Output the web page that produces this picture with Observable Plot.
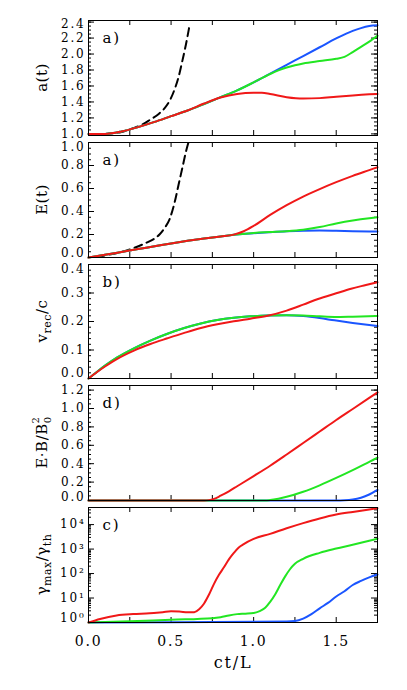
<!DOCTYPE html>
<html><head><meta charset="utf-8">
<script src="https://cdn.jsdelivr.net/npm/d3@7"></script>
<script src="https://cdn.jsdelivr.net/npm/@observablehq/plot@0.6"></script>
<style>
body{margin:0;background:#fff;}
#c{position:relative;width:407px;height:690px;overflow:hidden;}
#c svg{position:absolute;left:0;}
</style></head><body><div id="c"></div>
<script>
// ---------- data ----------
const xTicks = [0, 0.25, 0.5, 0.75, 1.0, 1.25, 1.5, 1.75];
const xLabels = [0, 0.5, 1.0, 1.5];
const tags = ["a)", "a)", "b)", "d)", "c)"];

// panel 1: a(t)
const aBlue = [[0,1.0],[0.1,1.0],[0.2,1.03],[0.3,1.085],[0.4,1.15],[0.5,1.222],[0.6,1.293],[0.7,1.375],[0.8,1.46],[0.9,1.545],[1.0,1.645],[1.1,1.755],[1.2,1.865],[1.3,1.975],[1.4,2.085],[1.5,2.195],[1.6,2.29],[1.65,2.325],[1.7,2.35],[1.75,2.36]];
const aGreen = [[0,1.0],[0.1,1.0],[0.2,1.03],[0.3,1.085],[0.4,1.15],[0.5,1.222],[0.6,1.293],[0.7,1.375],[0.8,1.46],[0.9,1.545],[1.0,1.645],[1.1,1.75],[1.15,1.795],[1.2,1.832],[1.25,1.86],[1.3,1.882],[1.4,1.912],[1.5,1.94],[1.55,1.965],[1.6,2.025],[1.65,2.09],[1.7,2.155],[1.75,2.23]];
const aRed = [[0,1.0],[0.1,1.0],[0.2,1.03],[0.3,1.085],[0.4,1.15],[0.5,1.222],[0.6,1.293],[0.7,1.38],[0.8,1.455],[0.9,1.5],[1.0,1.515],[1.05,1.515],[1.1,1.5],[1.2,1.46],[1.3,1.442],[1.4,1.448],[1.5,1.466],[1.6,1.482],[1.7,1.495],[1.75,1.5]];
const aDash = [[0.1,1.0],[0.2,1.025],[0.275,1.075],[0.325,1.115],[0.375,1.18],[0.425,1.25],[0.46,1.32],[0.49,1.41],[0.52,1.55],[0.545,1.71],[0.57,1.93],[0.59,2.12],[0.612,2.36]];

// panel 2: E(t)
const eBlue = [[0,0],[0.1,0.023],[0.2,0.048],[0.3,0.073],[0.4,0.097],[0.5,0.122],[0.6,0.145],[0.7,0.165],[0.8,0.183],[0.88,0.197],[0.95,0.206],[1.0,0.211],[1.1,0.22],[1.2,0.228],[1.3,0.233],[1.4,0.234],[1.5,0.232],[1.6,0.229],[1.7,0.227],[1.75,0.226]];
const eGreen = [[0,0],[0.1,0.023],[0.2,0.048],[0.3,0.073],[0.4,0.097],[0.5,0.122],[0.6,0.145],[0.7,0.165],[0.8,0.183],[0.88,0.197],[0.95,0.207],[1.0,0.213],[1.1,0.221],[1.2,0.229],[1.3,0.242],[1.4,0.265],[1.5,0.296],[1.6,0.322],[1.7,0.342],[1.75,0.35]];
const eRed = [[0,0],[0.1,0.023],[0.2,0.048],[0.3,0.073],[0.4,0.097],[0.5,0.122],[0.6,0.145],[0.7,0.165],[0.8,0.183],[0.88,0.199],[0.94,0.228],[1.0,0.275],[1.1,0.37],[1.2,0.455],[1.3,0.53],[1.4,0.595],[1.5,0.655],[1.6,0.71],[1.7,0.76],[1.75,0.785]];
const eDash = [[0.05,0.005],[0.1,0.018],[0.2,0.048],[0.275,0.083],[0.35,0.128],[0.4,0.165],[0.43,0.2],[0.46,0.255],[0.49,0.33],[0.52,0.47],[0.545,0.63],[0.57,0.79],[0.59,0.92],[0.605,1.0]];

// panel 3: v_rec/c
const vBlue = [[0,0],[0.05,0.023],[0.1,0.045],[0.174,0.074],[0.275,0.106],[0.375,0.133],[0.478,0.157],[0.58,0.177],[0.68,0.193],[0.78,0.205],[0.88,0.213],[0.98,0.218],[1.085,0.221],[1.2,0.222],[1.3,0.219],[1.4,0.212],[1.49,0.204],[1.6,0.195],[1.75,0.184]];
const vGreen = [[0,0],[0.05,0.023],[0.1,0.045],[0.174,0.074],[0.275,0.106],[0.375,0.133],[0.478,0.157],[0.58,0.177],[0.68,0.193],[0.78,0.205],[0.88,0.213],[0.98,0.218],[1.085,0.221],[1.2,0.222],[1.3,0.221],[1.4,0.218],[1.49,0.216],[1.6,0.217],[1.75,0.219]];
const vRed = [[0,0],[0.05,0.022],[0.1,0.042],[0.174,0.069],[0.275,0.098],[0.375,0.121],[0.478,0.141],[0.58,0.16],[0.68,0.177],[0.78,0.19],[0.88,0.201],[0.98,0.21],[1.085,0.22],[1.2,0.238],[1.3,0.259],[1.39,0.279],[1.5,0.299],[1.59,0.315],[1.68,0.328],[1.75,0.338]];

// panel 4: E.B/B0^2
const dBlue = [[0,0],[1.5,0],[1.55,0.002],[1.6,0.01],[1.65,0.03],[1.7,0.065],[1.75,0.115]];
const dGreen = [[0,0],[1.07,0],[1.1,0.005],[1.15,0.02],[1.2,0.04],[1.3,0.095],[1.4,0.165],[1.5,0.245],[1.6,0.33],[1.7,0.42],[1.75,0.465]];
const dRed = [[0,0],[0.7,0],[0.73,0.004],[0.76,0.018],[0.8,0.052],[0.85,0.1],[0.9,0.155],[1.0,0.265],[1.1,0.378],[1.2,0.5],[1.3,0.625],[1.4,0.75],[1.5,0.875],[1.6,0.995],[1.7,1.115],[1.75,1.175]];

// panel 5: gamma_max/gamma_th (log)
const gBlue = [[0,1.0],[0.5,1.02],[1.0,1.07],[1.2,1.1],[1.25,1.15],[1.3,1.45],[1.35,2.2],[1.4,3.8],[1.45,6.3],[1.5,11.5],[1.55,19],[1.6,34],[1.65,50],[1.7,70],[1.75,91]];
const gGreen = [[0,1.0],[0.25,1.12],[0.5,1.3],[0.75,1.5],[0.8,1.65],[0.85,1.95],[0.9,2.2],[0.95,2.3],[1.0,2.45],[1.04,3.0],[1.07,4.0],[1.1,7],[1.13,14],[1.16,33],[1.19,75],[1.22,150],[1.25,250],[1.3,400],[1.4,700],[1.5,1050],[1.6,1500],[1.7,2200],[1.75,2650]];
const gRed = [[0,1.0],[0.07,1.4],[0.17,1.95],[0.27,2.22],[0.37,2.38],[0.45,2.65],[0.5,2.85],[0.55,2.8],[0.6,2.6],[0.64,2.65],[0.67,3.5],[0.7,6],[0.73,14],[0.76,38],[0.79,89],[0.82,180],[0.85,380],[0.88,700],[0.91,1170],[0.94,1600],[1.0,2600],[1.1,4200],[1.2,7100],[1.3,11500],[1.4,17800],[1.5,25700],[1.6,33000],[1.7,41500],[1.75,46800]];

const aTicks = [1.0, 1.2, 1.4, 1.6, 1.8, 2.0, 2.2, 2.4];
const eTicks = [0.0, 0.2, 0.4, 0.6, 0.8, 1.0];
const vTicks = [0.0, 0.1, 0.2, 0.3, 0.4];
const dTicks = [0.0, 0.2, 0.4, 0.6, 0.8, 1.0, 1.2];
const gTicks = [1, 10, 100, 1000, 10000];

// ---------- layout ----------
const W = 407, ML = 88, MR = 30, PAD = 8;
const C = {blue: "#1a55ff", green: "#22e622", red: "#f01818", black: "#000"};
const FONT = "'DejaVu Serif', serif";
const sup = {"0":"⁰","1":"¹","2":"²","3":"³","4":"⁴"};
const f1 = d3.format(".1f");
const fLog = d => "10" + sup[String(Math.round(Math.log10(d)))];

function panel(cfg) {
  const {top, h, y, majors, minors, nudge = {}, fmt, tag, series, title, last} = cfg;
  const mb = last ? 70 : PAD;
  const pw = W - ML - MR;
  const marks = [];
  // tick marks (inward, all sides)
  marks.push(Plot.tickX(xTicks, {x: d => d, insetTop: h - 5, stroke: "#000"}));
  marks.push(Plot.tickX(xTicks, {x: d => d, insetBottom: h - 5, stroke: "#000"}));
  marks.push(Plot.tickY(majors, {y: d => d, insetRight: pw - 6, stroke: "#000"}));
  marks.push(Plot.tickY(majors, {y: d => d, insetLeft: pw - 6, stroke: "#000"}));
  marks.push(Plot.tickY(minors, {y: d => d, insetRight: pw - 3, stroke: "#000"}));
  marks.push(Plot.tickY(minors, {y: d => d, insetLeft: pw - 3, stroke: "#000"}));
  // curves
  for (const s of series) {
    marks.push(Plot.line(s.data, {x: d => d[0], y: d => d[1], stroke: s.color, strokeWidth: 2,
      curve: "monotone-x", strokeDasharray: s.dash ? "8,5" : null}));
  }
  marks.push(Plot.frame({stroke: "#000", strokeWidth: 1}));
  // tick labels, with a few edge labels nudged inward as in the original
  const groups = d3.group(majors, v => nudge[v] || 0);
  for (const [dy, vals] of groups) {
    marks.push(Plot.axisY({ticks: vals, tickSize: 0, tickPadding: 3, tickFormat: fmt, fontSize: 12, dy, label: null}));
  }
  marks.push(Plot.text([tag], {text: d => d, frameAnchor: "top-left", dx: 14, dy: 12, fontSize: 15, lineAnchor: "top"}));
  if (last) {
    marks.push(Plot.axisX({ticks: xLabels, tickSize: 0, tickPadding: 14, tickFormat: f1, fontSize: 14, label: null}));
    marks.push(Plot.text(["ct/L"], {text: d => d, frameAnchor: "bottom", dy: 40, fontSize: 16, lineAnchor: "middle"}));
  }
  const svg = Plot.plot({
    width: W, height: h + PAD + mb,
    marginLeft: ML, marginRight: MR, marginTop: PAD, marginBottom: mb,
    x: {domain: [0, 1.75], axis: null},
    y,
    style: {background: "none", overflow: "visible", fontFamily: FONT, letterSpacing: "1.8px", color: "#000"},
    marks
  });
  svg.style.top = (top - PAD) + "px";
  // y-axis title (rotated, with sub/superscripts)
  const t = d3.select(svg).append("text")
    .attr("transform", `translate(47,${PAD + h / 2}) rotate(-90)`)
    .attr("text-anchor", "middle")
    .attr("font-family", FONT).attr("font-size", 15).attr("fill", "#000")
    .style("letter-spacing", "0.5px");
  title(t);
  document.getElementById("c").appendChild(svg);
}

const S = (data, color, dash) => ({data, color, dash});

panel({top: 20, h: 115, y: {domain: [0.98, 2.42]}, majors: aTicks, minors: d3.range(1.0, 2.42, 0.05),
  nudge: {2.4: 2}, fmt: f1, tag: tags[0],
  series: [S(aDash, C.black, true), S(aBlue, C.blue), S(aGreen, C.green), S(aRed, C.red)],
  title: t => t.text("a(t)")});

panel({top: 142, h: 115, y: {domain: [0, 1.0]}, majors: eTicks, minors: d3.range(0, 1.0001, 0.05),
  nudge: {1.0: 5, 0: -4}, fmt: f1, tag: tags[1],
  series: [S(eDash, C.black, true), S(eBlue, C.blue), S(eGreen, C.green), S(eRed, C.red)],
  title: t => t.text("E(t)")});

panel({top: 264, h: 114, y: {domain: [0, 0.4]}, majors: vTicks, minors: d3.range(0, 0.4001, 0.02),
  nudge: {0.4: 5, 0: -5}, fmt: f1, tag: tags[2],
  series: [S(vBlue, C.blue), S(vGreen, C.green), S(vRed, C.red)],
  title: t => { t.append("tspan").text("v"); t.append("tspan").attr("dy", 4).attr("font-size", 11).text("rec");
                t.append("tspan").attr("dy", -4).text("/c"); }});

panel({top: 385, h: 115, y: {domain: [0, 1.25]}, majors: dTicks, minors: d3.range(0, 1.2501, 0.05),
  nudge: {0: -3}, fmt: f1, tag: tags[3],
  series: [S(dBlue, C.blue), S(dGreen, C.green), S(dRed, C.red)],
  title: t => { t.append("tspan").text("E·B/B"); t.append("tspan").attr("dy", 4).attr("font-size", 10).text("0");
                t.append("tspan").attr("dx", -7).attr("dy", -12).attr("font-size", 10).text("2"); }});

const gMinors = [];
for (let k = 0; k <= 4; k++) for (let m = 2; m <= 9; m++) if (m * 10 ** k <= 5e4) gMinors.push(m * 10 ** k);
panel({top: 507, h: 115, y: {type: "log", domain: [1, 5e4]}, majors: gTicks, minors: gMinors,
  nudge: {1: -4}, fmt: fLog, tag: tags[4],
  series: [S(gBlue, C.blue), S(gGreen, C.green), S(gRed, C.red)],
  title: t => { t.append("tspan").text("γ"); t.append("tspan").attr("dy", 4).attr("font-size", 11).text("max");
                t.append("tspan").attr("dy", -4).text("/γ"); t.append("tspan").attr("dy", 4).attr("font-size", 11).text("th"); },
  last: true});
</script></body></html>
